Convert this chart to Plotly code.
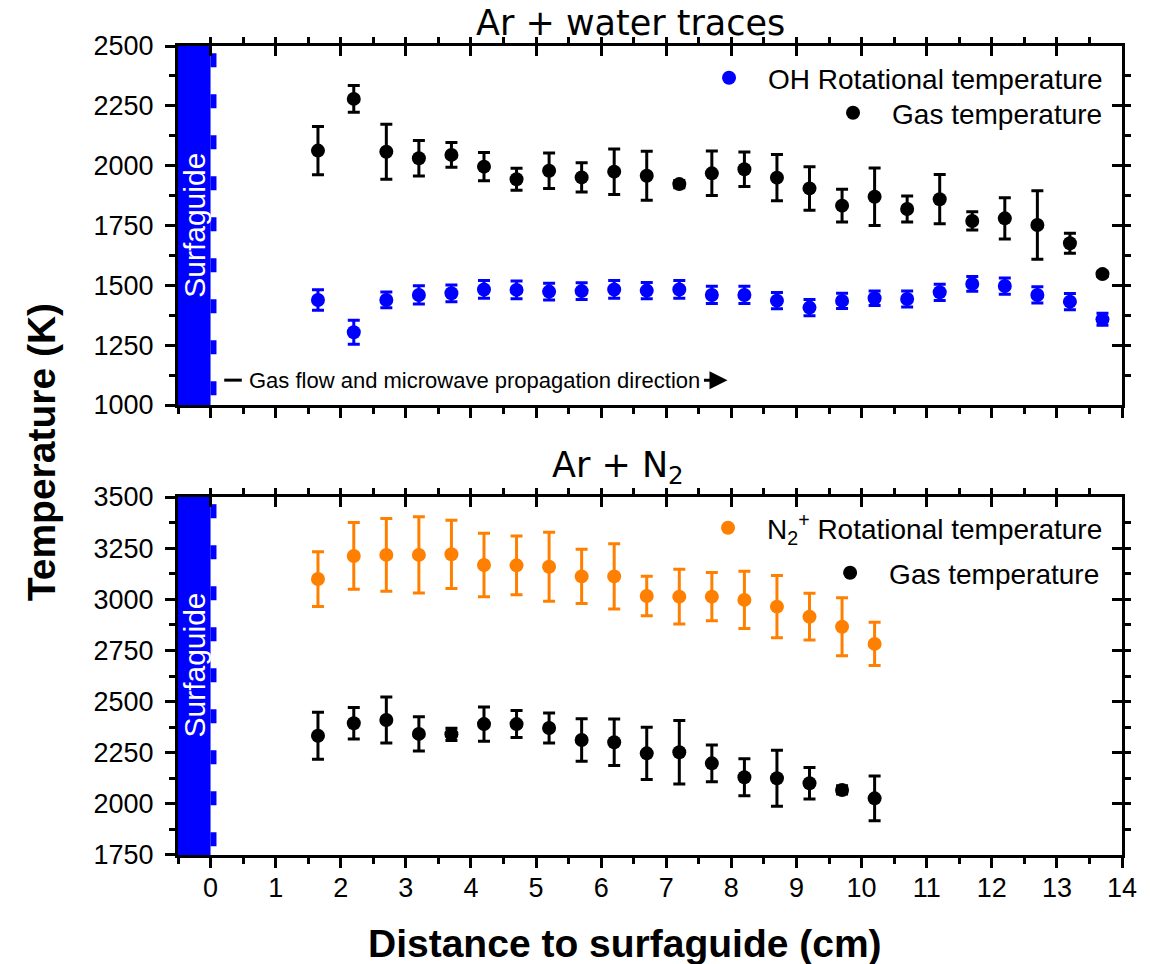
import plotly.graph_objects as go

# ---------------- data ----------------
x_top = [1.65, 2.2, 2.7, 3.2, 3.7, 4.2, 4.7, 5.2, 5.7, 6.2, 6.7, 7.2, 7.7,
         8.2, 8.7, 9.2, 9.7, 10.2, 10.7, 11.2, 11.7, 12.2, 12.7, 13.2, 13.7]
oh_T = [1439, 1304, 1439, 1460, 1467, 1483, 1481, 1474, 1476, 1483, 1478, 1483, 1460,
        1460, 1436, 1407, 1435, 1446, 1443, 1471, 1506, 1497, 1460, 1432, 1358]
oh_err = [43, 50, 33, 38, 35, 37, 37, 35, 35, 37, 34, 37, 36,
          36, 34, 34, 32, 30, 33, 34, 31, 34, 34, 34, 25]
gas_top_T = [2063, 2279, 2058, 2031, 2045, 1996, 1943, 1979, 1951, 1975, 1958, 1923, 1968,
             1985, 1950, 1905, 1833, 1870, 1819, 1860, 1769, 1780, 1752, 1676, 1547]
gas_top_err = [101, 56, 115, 74, 52, 59, 46, 74, 61, 95, 102, 15, 93,
               72, 97, 91, 68, 120, 54, 103, 38, 86, 143, 42, 10]

x_bot = [1.65, 2.2, 2.7, 3.2, 3.7, 4.2, 4.7, 5.2, 5.7, 6.2, 6.7, 7.2, 7.7,
         8.2, 8.7, 9.2, 9.7, 10.2]
n2_T = [3099, 3212, 3217, 3217, 3220, 3168, 3166, 3159, 3112, 3112, 3016, 3013, 3013,
        2997, 2964, 2915, 2866, 2782]
n2_err = [134, 163, 178, 186, 167, 155, 144, 169, 133, 160, 97, 134, 118,
          140, 152, 114, 142, 106]
gas_bot_T = [2333, 2394, 2410, 2342, 2340, 2390, 2390, 2371, 2312, 2301, 2247, 2252, 2198,
             2130, 2125, 2101, 2068, 2027]
gas_bot_err = [115, 77, 112, 84, 30, 84, 66, 73, 104, 114, 128, 155, 90,
               90, 137, 77, 20, 109]

x_ticks = list(range(0, 15))
top_yticks = [1000, 1250, 1500, 1750, 2000, 2250, 2500]
bot_yticks = [1750, 2000, 2250, 2500, 2750, 3000, 3250, 3500]

BLUE = "#0000FF"
ORANGE = "#FF8000"
BLACK = "#000000"
SANS = "Liberation Sans, Arial, sans-serif"
TICKFONT = dict(family=SANS, size=27, color="black")

fig = go.Figure()


def add_series(x, y, err, color, name, xa, ya, legend):
    fig.add_trace(go.Scatter(
        x=x, y=y, mode="markers", name=name,
        marker=dict(color=color, size=14, line=dict(width=0)),
        error_y=dict(type="data", array=err, visible=True, thickness=3, width=6, color=color),
        xaxis=xa, yaxis=ya, legend=legend, hoverinfo="skip"))


add_series(x_top, oh_T, oh_err, BLUE, "OH Rotational temperature", "x", "y", "legend")
add_series(x_top, gas_top_T, gas_top_err, BLACK, "Gas temperature", "x", "y", "legend2")
add_series(x_bot, n2_T, n2_err, ORANGE, "N<sub>2</sub><sup>+</sup> Rotational temperature", "x2", "y2", "legend3")
add_series(x_bot, gas_bot_T, gas_bot_err, BLACK, "Gas temperature", "x2", "y2", "legend4")

# empty traces to activate mirror subplots (inward ticks on top / right)
fig.add_trace(go.Scatter(x=[], y=[], xaxis="x3", yaxis="y3", showlegend=False, hoverinfo="skip"))
fig.add_trace(go.Scatter(x=[], y=[], xaxis="x4", yaxis="y4", showlegend=False, hoverinfo="skip"))

XR = [-0.5, 14]
TOP_DOM = [0.5562, 1.0]
BOT_DOM = [0.0, 0.4425]

common_x = dict(range=XR, tickvals=x_ticks, showgrid=False, zeroline=False, showline=True,
                linecolor="black", linewidth=3, ticklen=10, tickwidth=3, tickcolor="black",
                tickfont=TICKFONT,
                minor=dict(dtick=0.5, tick0=0, ticklen=6, tickwidth=3, tickcolor="black", showgrid=False))
common_y = dict(dtick=250, showgrid=False, zeroline=False, showline=True, linecolor="black",
                linewidth=3, ticklen=10, tickwidth=3, tickcolor="black", tickfont=TICKFONT,
                ticklabelstandoff=6,
                minor=dict(dtick=125, ticklen=6, tickwidth=3, tickcolor="black", showgrid=False))

fig.update_layout(
    width=1150, height=964,
    margin=dict(l=178, r=28, t=46, b=109),
    plot_bgcolor="white", paper_bgcolor="white",
    font=dict(family=SANS, color="black"),
    xaxis=dict(**common_x, anchor="y", domain=[0, 1], ticks="outside", showticklabels=False),
    yaxis=dict(**common_y, anchor="x", domain=TOP_DOM, range=[1000, 2500], ticks="outside",
               tickvals=top_yticks),
    xaxis2=dict(**common_x, anchor="y2", domain=[0, 1], ticks="outside", showticklabels=True,
                ticklabelstandoff=-3),
    yaxis2=dict(**common_y, anchor="x2", domain=BOT_DOM, range=[1750, 3500], ticks="outside",
                tickvals=bot_yticks),
    xaxis3=dict(**common_x, overlaying="x", anchor="y3", side="top", ticks="inside",
                showticklabels=False),
    yaxis3=dict(**common_y, overlaying="y", anchor="x3", side="right", range=[1000, 2500],
                ticks="inside", showticklabels=False, tickvals=top_yticks),
    xaxis4=dict(**common_x, overlaying="x2", anchor="y4", side="top", ticks="inside",
                showticklabels=False),
    yaxis4=dict(**common_y, overlaying="y2", anchor="x4", side="right", range=[1750, 3500],
                ticks="inside", showticklabels=False, tickvals=bot_yticks),
    showlegend=True,
)

LEG = dict(xanchor="right", yanchor="middle", bgcolor="rgba(0,0,0,0)", borderwidth=0,
           itemwidth=68, font=dict(family=SANS, size=28, color="black"))
fig.update_layout(
    legend=dict(**LEG, x=0.9852, y=0.9604),
    legend2=dict(**LEG, x=0.9852, y=0.9172),
    legend3=dict(**LEG, x=0.9852, y=0.4042),
    legend4=dict(**LEG, x=0.9821, y=0.3486),
)

# Surfaguide blocks
for xref, yref, ty in (("x", "y domain", 0.50), ("x2", "y2 domain", 0.53)):
    fig.add_shape(type="rect", xref=xref, yref=yref, x0=-0.5, x1=0, y0=0, y1=1,
                  fillcolor=BLUE, line=dict(width=0), layer="below")
    fig.add_shape(type="line", xref=xref, yref=yref, x0=0.045, x1=0.045, y0=0.98, y1=0,
                  line=dict(color=BLUE, width=6, dash="14px,27px"), layer="below")
    fig.add_annotation(xref=xref, yref=yref, x=-0.25, y=ty, text="Surfaguide", showarrow=False,
                       textangle=-90, xanchor="center", yanchor="middle",
                       font=dict(family=SANS, size=30, color="white"))

# flow direction note
fig.add_shape(type="line", xref="x", yref="y", x0=0.21, x1=0.48, y0=1104, y1=1104,
              line=dict(color="black", width=3))
fig.add_annotation(xref="x", yref="y", x=0.56, y=1104, xanchor="left", yanchor="middle",
                   text="Gas flow and microwave propagation direction", showarrow=False,
                   font=dict(family=SANS, size=22, color="black"))
fig.add_annotation(xref="x", yref="y", x=7.94, y=1104, text="", showarrow=True, ax=-25, ay=0,
                   arrowhead=2, arrowsize=1.2, arrowwidth=3, arrowcolor="black")

# titles
TITLEFONT = dict(family="DejaVu Sans, Open Sans, sans-serif", size=35, color="black")
fig.add_annotation(xref="paper", yref="paper", x=0.479, y=1.0288, text="Ar + water traces",
                   showarrow=False, font=TITLEFONT, xanchor="center", yanchor="middle")
fig.add_annotation(xref="paper", yref="paper", x=0.466, y=0.4784, text="Ar + N<sub>2</sub>",
                   showarrow=False, font=TITLEFONT, xanchor="center", yanchor="middle")
BOLD = dict(family=SANS, size=39, color="black", weight="bold")
fig.add_annotation(xref="paper", yref="paper", x=-0.145, y=0.498, text="<b>Temperature (K)</b>",
                   showarrow=False, textangle=-90, font=BOLD, xanchor="center", yanchor="middle")
fig.add_annotation(xref="paper", yref="paper", x=0.474, y=-0.1088,
                   text="<b>Distance to surfaguide (cm)</b>", showarrow=False, font=BOLD,
                   xanchor="center", yanchor="middle")

# remove the default page margin so the 1150x964 figure fills the window exactly
fig.write_html("out.html", config={"displayModeBar": False},
               post_script="document.body.style.margin='0px';")
